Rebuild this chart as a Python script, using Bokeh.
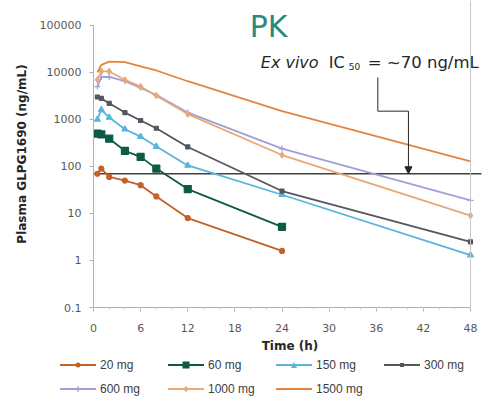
from bokeh.plotting import figure
from bokeh.layouts import column
from bokeh.models import (FixedTicker, CustomJSTickFormatter, Label, Arrow,
                          NormalHead, Span, Div)
from bokeh.embed import file_html
from bokeh.resources import INLINE

# Sampling times (h) and mean plasma concentrations (ng/mL) per dose
time_h = [0.5, 1, 2, 4, 6, 8, 12, 24, 48]
dose_labels = ["20 mg", "60 mg", "150 mg", "300 mg", "600 mg", "1000 mg", "1500 mg"]
conc_20 = [70, 90, 60, 50, 40, 23, 8, 1.6]
conc_60 = [500, 480, 390, 215, 160, 90, 33, 5.2]
conc_150 = [1000, 1600, 1100, 620, 430, 265, 105, 25, 1.3]
conc_300 = [3000, 2800, 2200, 1400, 950, 650, 260, 30, 2.5]
conc_600 = [5000, 8000, 8000, 6500, 4700, 3300, 1400, 240, 19]
conc_1000 = [7000, 10500, 10500, 7000, 5000, 3200, 1300, 175, 9]
conc_1500 = [10000, 14500, 17000, 16500, 13500, 11000, 6500, 1500, 128]
ic50 = 70  # ex vivo IC50, ng/mL
x_ticks = [0, 6, 12, 18, 24, 30, 36, 42, 48]
y_ticks = [0.1, 1, 10, 100, 1000, 10000, 100000]

series = [conc_20, conc_60, conc_150, conc_300, conc_600, conc_1000, conc_1500]
colors = ["#c4602a", "#0e5a47", "#5ab4de", "#55565f", "#9ea0d8", "#e8a878", "#e5843e"]
markers = ["circle", "square", "triangle", "square", "cross", "diamond", None]
msizes = [5, 7, 6, 4, 6, 6, 0]

FONT = "DejaVu Sans"

# the frame runs to the top and right edges so the title and the note can
# overhang the axes; the axis lines themselves stop at 100000 and 48 h
y_top = 10 ** (5 + 25 / 47.17)
x_right = 48 * 393 / 377
p = figure(width=486, height=355, x_range=(0, x_right), y_range=(0.1, y_top),
           y_axis_type="log", output_backend="svg", toolbar_location=None,
           min_border_left=93, min_border_right=0, min_border_top=0,
           min_border_bottom=47)
p.outline_line_color = None
p.xgrid.visible = False
p.ygrid.visible = False

# axes
p.xaxis.ticker = FixedTicker(ticks=x_ticks, minor_ticks=list(range(0, 49, 2)))
p.xaxis.bounds = (0, 48)
p.yaxis.ticker = FixedTicker(ticks=y_ticks)
p.yaxis.bounds = (0.1, 100000)
p.yaxis.formatter = CustomJSTickFormatter(
    code="return tick < 1 ? tick.toFixed(1) : tick.toFixed(0);")
for ax in (p.xaxis, p.yaxis):
    ax.axis_line_color = "#b0b0b0"
    ax.major_tick_line_color = "#b0b0b0"
    ax.minor_tick_line_color = "#c8c8c8"
    ax.major_tick_in = 0
    ax.major_tick_out = 4
    ax.minor_tick_in = 0
    ax.minor_tick_out = 2
    ax.major_label_text_font = FONT
    ax.major_label_text_font_size = "11px"
    ax.major_label_text_color = "#595959"
    ax.axis_label_text_font = FONT
    ax.axis_label_text_font_size = "12px"
    ax.axis_label_text_font_style = "bold"
    ax.axis_label_text_color = "#262626"
p.yaxis.minor_tick_line_color = None
p.xaxis.axis_label = "Time (h)"
p.yaxis.axis_label = "Plasma GLPG1690 (ng/mL)"
p.xaxis.major_label_standoff = 12
p.xaxis.axis_label_standoff = 4
p.yaxis.major_label_standoff = 8
p.yaxis.axis_label_standoff = 8

# right edge line
p.add_layout(Span(location=48, dimension="height", line_color="#c8c8c8", line_width=1))

# IC50 reference line
p.line(x=[0, 49.4], y=[ic50, ic50], line_color="#404040", line_width=1.5)

for conc, col, mk, ms in zip(series, colors, markers, msizes):
    t = time_h[:len(conc)]
    p.line(x=t, y=conc, line_color=col, line_width=1.8)
    if mk:
        p.scatter(x=t, y=conc, marker=mk, size=ms, fill_color=col,
                  line_color=col, line_width=1.2)

# title
p.add_layout(Label(x=22.3, y=95000, text="PK", text_font=FONT, text_font_size="30px",
                   text_color="#2a8a80", text_align="center",
                   text_baseline="middle"))

# IC50 annotation
lab_x, lab_y = 21.3, 16000
note = dict(x=lab_x, y=lab_y, text_font=FONT, text_color="#262626",
            text_baseline="middle")
p.add_layout(Label(text="Ex vivo", text_font_style="italic", text_font_size="16px", **note))
p.add_layout(Label(text="IC", x_offset=68, text_font_size="16px", **note))
p.add_layout(Label(text="50", x_offset=88, y_offset=-4, text_font_size="9px", **note))
p.add_layout(Label(text="= ~70 ng/mL", x_offset=107, text_font_size="16.5px", **note))

# elbow arrow pointing at the IC50 line
p.line(x=[36.2, 36.2, 40.1], y=[7800, 1500, 1500], line_color="#262626", line_width=1)
p.add_layout(Arrow(end=NormalHead(size=7, fill_color="#262626", line_color="#262626"),
                   x_start=40.1, y_start=1500, x_end=40.1, y_end=ic50,
                   line_color="#262626", line_width=1))


# legend strip under the chart: four entries per row
def legend_marker(kind, cx, cy, size, col):
    h = size / 2
    if kind == "circle":
        return f'<circle cx="{cx}" cy="{cy}" r="{h}" fill="{col}"/>'
    if kind == "square":
        return f'<rect x="{cx - h}" y="{cy - h}" width="{size}" height="{size}" fill="{col}"/>'
    if kind == "triangle":
        return (f'<polygon points="{cx},{cy - h} {cx + h},{cy + h} {cx - h},{cy + h}" '
                f'fill="{col}"/>')
    if kind == "diamond":
        return (f'<polygon points="{cx},{cy - h} {cx + h},{cy} {cx},{cy + h} {cx - h},{cy}" '
                f'fill="{col}"/>')
    if kind == "cross":
        return (f'<path d="M{cx - h},{cy}H{cx + h}M{cx},{cy - h}V{cy + h}" '
                f'stroke="{col}" stroke-width="1.2"/>')
    return ""


parts = []
for i, (label, col, mk, ms) in enumerate(zip(dose_labels, colors, markers, msizes)):
    row, col_idx = divmod(i, 4)
    gx = 60 + 108 * col_idx
    gy = 10 + 24 * row
    parts.append(f'<line x1="{gx}" y1="{gy}" x2="{gx + 36}" y2="{gy}" '
                 f'stroke="{col}" stroke-width="1.8"/>')
    if mk:
        parts.append(legend_marker(mk, gx + 18, gy, ms, col))
    parts.append(f'<text x="{gx + 40}" y="{gy}" dominant-baseline="central" '
                 f'font-family="{FONT}" font-size="12px" fill="#404040">{label}</text>')
svg = ('<svg xmlns="http://www.w3.org/2000/svg" width="486" height="55">'
       + "".join(parts) + "</svg>")
legend_div = Div(text=svg, width=486, height=55, margin=0,
                 styles={"padding": "0", "margin": "0", "line-height": "0"})

layout = column(p, legend_div, spacing=0)
open("out.html", "w").write(file_html(layout, INLINE))
